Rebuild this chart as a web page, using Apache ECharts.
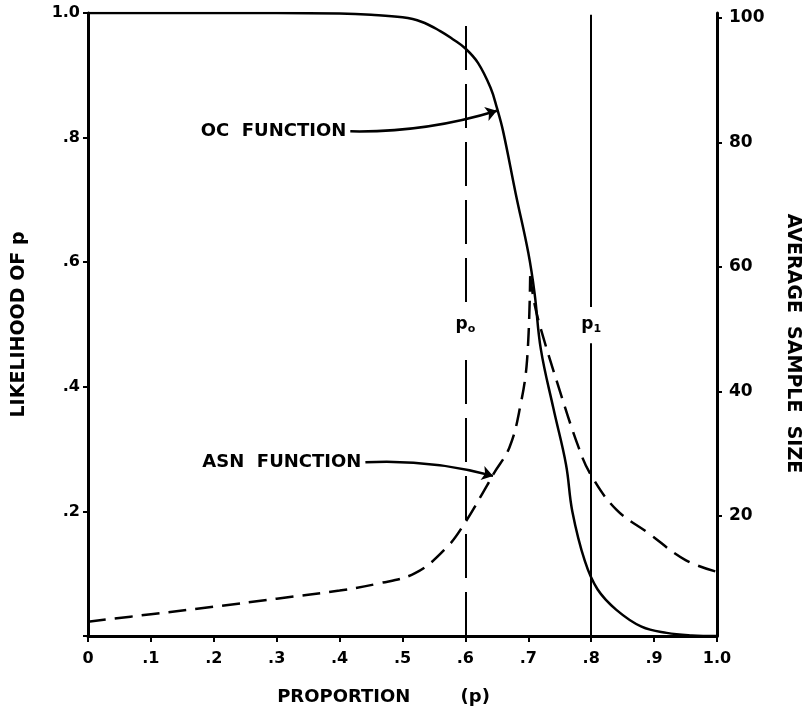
<!DOCTYPE html>
<html>
<head>
<meta charset="utf-8">
<script src="https://cdn.jsdelivr.net/npm/echarts@6/dist/echarts.min.js"></script>
<style>
  html, body { margin: 0; padding: 0; background: #fff; }
  #chart { width: 804px; height: 711px; }
</style>
</head>
<body>
<div id="chart"></div>
<script>
// OC function: proportion p -> likelihood (left axis)
const ocP = [0, 0.1, 0.2, 0.3, 0.4, 0.45, 0.5, 0.53, 0.56, 0.58, 0.6, 0.62, 0.64, 0.65, 0.66, 0.68, 0.70, 0.71, 0.72, 0.74, 0.76, 0.77, 0.79, 0.81, 0.84, 0.88, 0.92, 0.96, 1.0]
const ocL = [1, 1, 1, 1, 0.999, 0.997, 0.993, 0.986, 0.971, 0.958, 0.943, 0.92, 0.88, 0.848, 0.81, 0.71, 0.615, 0.55, 0.46, 0.365, 0.275, 0.2, 0.12, 0.075, 0.042, 0.015, 0.005, 0.001, 0]

// ASN function: proportion p -> average sample size (right axis), rising and falling branch
const asnRiseP = [0, 0.1, 0.2, 0.3, 0.4, 0.46, 0.52, 0.57, 0.6, 0.635, 0.645, 0.67, 0.687, 0.698, 0.703]
const asnRiseN = [3.0, 4.2, 5.4, 6.7, 8.0, 9.1, 10.8, 14.9, 19.0, 25.0, 26.8, 31.0, 37.5, 45, 58.5]
const asnFallP = [0.703, 0.71, 0.72, 0.746, 0.78, 0.8, 0.84, 0.89, 0.95, 1.0]
const asnFallN = [58.5, 54, 50, 41.4, 31, 26.5, 21, 17.3, 12.9, 11]

// p0 / p1 reference lines (gap left for the label)
const p0 = 0.6
const p1 = 0.8
const p0Segments = [[0, 0.462], [0.536, 1.0]]
const p1Segments = [[0, 0.47], [0.528, 0.997]]
const refLabelY = 0.5

// annotation arrows, in data units of the left axis
const ocArrow = [[0.417, 0.81], [0.65, 0.843]]
const asnArrow = [[0.441, 0.279], [0.644, 0.257]]

const rightTicks = [20, 40, 60, 80, 100]

const font = 'DejaVu Sans'
const black = '#000'

function fmtX(v) {
  if (v === 0) return '0'
  if (v === 1) return '1.0'
  return '.' + Math.round(v * 10)
}
function fmtLeft(v) {
  if (v === 0) return ''
  if (v === 1) return '1.0'
  return '.' + Math.round(v * 10)
}
function pairs(xs, ys) {
  return xs.map((x, i) => [x, ys[i]])
}

const chart = echarts.init(document.getElementById('chart'), null, { renderer: 'canvas' })

const refLabelRich = {
  p: { fontFamily: font, fontWeight: 'bold', fontSize: 17, color: black },
  s: { fontFamily: font, fontWeight: 'bold', fontSize: 11, color: black, verticalAlign: 'bottom', padding: [9, 0, 0, 0] }
}
const asnLine = { color: black, width: 2.5, type: [18, 9] }

chart.setOption({
  animation: false,
  backgroundColor: '#fff',
  grid: { left: 88, right: 87, top: 13, bottom: 75, containLabel: false, outerBoundsMode: 'none' },
  xAxis: {
    type: 'value',
    min: 0,
    max: 1,
    interval: 0.1,
    name: 'PROPORTION        (p)',
    nameLocation: 'middle',
    nameGap: 52,
    nameTextStyle: { fontFamily: font, fontWeight: 'bold', fontSize: 18, color: black, padding: [0, 38, 0, 0] },
    axisLine: { lineStyle: { color: black, width: 3 } },
    axisTick: { length: 6, lineStyle: { color: black, width: 2 } },
    axisLabel: { formatter: fmtX, fontFamily: font, fontWeight: 'bold', fontSize: 16, color: black, margin: 15 },
    splitLine: { show: false }
  },
  yAxis: [
    {
      type: 'value',
      min: 0,
      max: 1,
      interval: 0.2,
      name: 'LIKELIHOOD OF p',
      nameLocation: 'middle',
      nameRotate: 90,
      nameGap: 59,
      nameTextStyle: { fontFamily: font, fontWeight: 'bold', fontSize: 19, color: black },
      axisLine: { show: true, lineStyle: { color: black, width: 3 } },
      axisTick: { show: true, length: 5, lineStyle: { color: black, width: 2 } },
      axisLabel: { formatter: fmtLeft, fontFamily: font, fontWeight: 'bold', fontSize: 16, color: black, margin: 8 },
      splitLine: { show: false }
    },
    {
      type: 'value',
      min: 0.7,
      max: 100.8,
      position: 'right',
      name: 'AVERAGE  SAMPLE  SIZE',
      nameLocation: 'middle',
      nameRotate: -90,
      nameGap: 66,
      nameTextStyle: { fontFamily: font, fontWeight: 'bold', fontSize: 19, color: black, padding: [0, 0, 0, 38] },
      axisLine: { show: true, lineStyle: { color: black, width: 3 } },
      axisTick: { show: true, length: 5, customValues: rightTicks, lineStyle: { color: black, width: 2 } },
      axisLabel: { customValues: rightTicks, fontFamily: font, fontWeight: 'bold', fontSize: 17, color: black, margin: 12 },
      splitLine: { show: false }
    }
  ],
  series: [
    {
      name: 'OC',
      type: 'line',
      yAxisIndex: 0,
      data: pairs(ocP, ocL),
      smooth: 0.4,
      symbol: 'none',
      lineStyle: { color: black, width: 2.5 },
      z: 5
    },
    {
      name: 'ASN rise',
      type: 'line',
      yAxisIndex: 1,
      data: pairs(asnRiseP, asnRiseN),
      smooth: 0.4,
      symbol: 'none',
      lineStyle: asnLine,
      z: 5
    },
    {
      name: 'ASN fall',
      type: 'line',
      yAxisIndex: 1,
      data: pairs(asnFallP, asnFallN),
      smooth: 0.4,
      symbol: 'none',
      lineStyle: asnLine,
      z: 5
    },
    {
      name: 'refs',
      type: 'line',
      yAxisIndex: 0,
      data: [],
      markLine: {
        silent: true,
        symbol: 'none',
        label: { show: false },
        data: p0Segments.map(s => [
          { coord: [p0, s[0]], lineStyle: { color: black, width: 2, type: [44, 14] } },
          { coord: [p0, s[1]] }
        ]).concat(p1Segments.map(s => [
          { coord: [p1, s[0]], lineStyle: { color: black, width: 2, type: 'solid' } },
          { coord: [p1, s[1]] }
        ]))
      }
    },
    {
      name: 'refLabels',
      type: 'scatter',
      yAxisIndex: 0,
      symbolSize: 0,
      itemStyle: { opacity: 1 },
      data: [
        { value: [p0, refLabelY], label: { formatter: '{p|p}{s|o}' } },
        { value: [p1, refLabelY], label: { formatter: '{p|p}{s|1}' } }
      ],
      label: { show: true, position: 'inside', rich: refLabelRich }
    },
    {
      name: 'arrows',
      type: 'lines',
      coordinateSystem: 'cartesian2d',
      yAxisIndex: 0,
      symbol: ['none', 'arrow'],
      symbolSize: 11,
      lineStyle: { color: black, width: 2.5, opacity: 1 },
      data: [
        { coords: ocArrow, lineStyle: { curveness: -0.08 } },
        { coords: asnArrow, lineStyle: { curveness: 0.08 } }
      ],
      z: 6
    },
    {
      name: 'arrowText',
      type: 'scatter',
      yAxisIndex: 0,
      symbolSize: 0,
      itemStyle: { opacity: 1 },
      data: [
        { value: ocArrow[0], label: { formatter: 'OC  FUNCTION' } },
        { value: asnArrow[0], label: { formatter: 'ASN  FUNCTION' } }
      ],
      label: {
        show: true,
        position: 'left',
        distance: 4,
        fontFamily: font,
        fontWeight: 'bold',
        fontSize: 18,
        color: black
      }
    }
  ]
})
</script>
</body>
</html>
